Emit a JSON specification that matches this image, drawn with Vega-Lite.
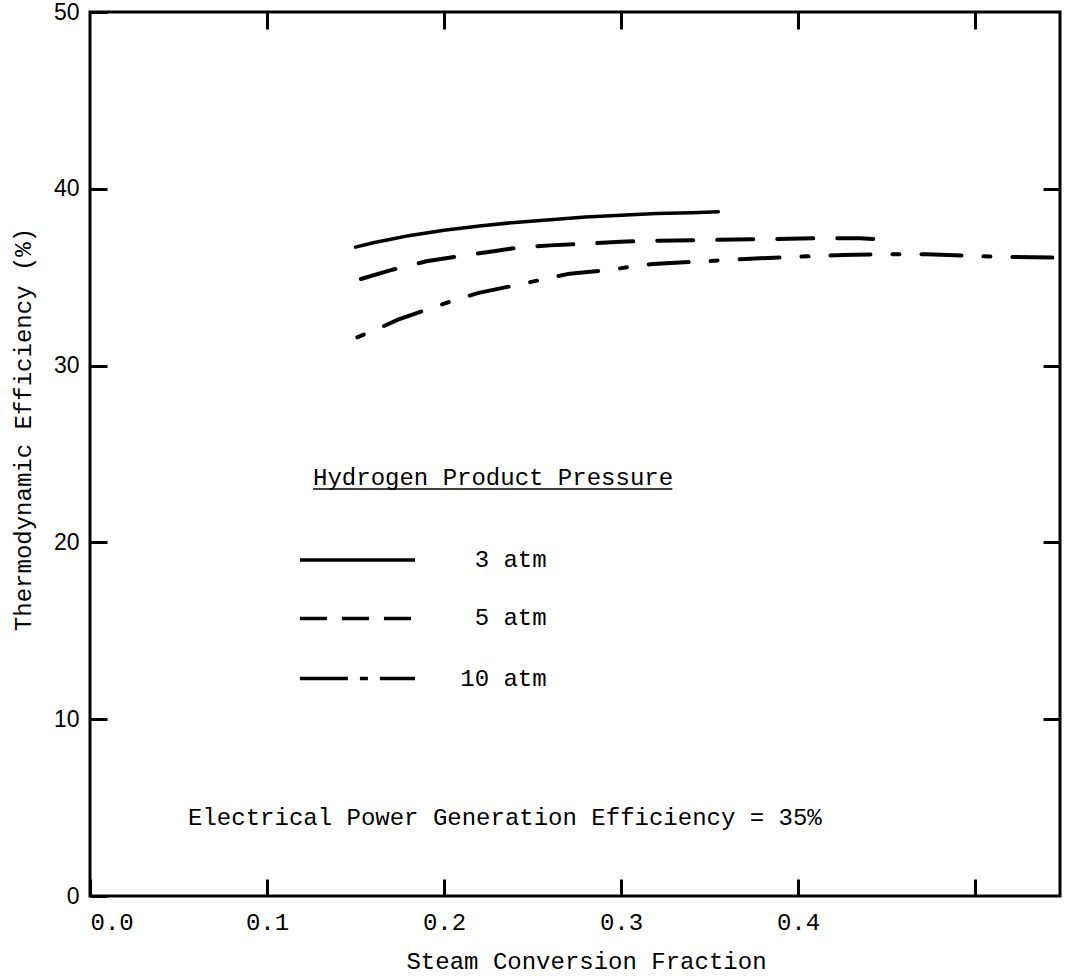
{
  "$schema": "https://vega.github.io/schema/vega-lite/v6.json",
  "width": 970,
  "height": 884,
  "autosize": {"type": "none"},
  "padding": {"left": 90, "top": 12, "right": 9, "bottom": 83},
  "background": "white",
  "config": {
    "view": {"stroke": "black", "strokeWidth": 3},
    "axis": {"domain": false, "grid": false, "tickColor": "black", "tickWidth": 3, "tickSize": -17, "labelColor": "black", "titleColor": "black"},
    "text": {"font": "Liberation Mono", "fontSize": 24, "fontWeight": "normal", "color": "black"}
  },
  "datasets": {
    "curves": [
      {"series": "3 atm", "x": 0.15, "y": 36.7},
      {"series": "3 atm", "x": 0.16, "y": 36.95},
      {"series": "3 atm", "x": 0.17, "y": 37.15},
      {"series": "3 atm", "x": 0.18, "y": 37.35},
      {"series": "3 atm", "x": 0.19, "y": 37.5},
      {"series": "3 atm", "x": 0.2, "y": 37.65},
      {"series": "3 atm", "x": 0.22, "y": 37.9},
      {"series": "3 atm", "x": 0.24, "y": 38.1},
      {"series": "3 atm", "x": 0.26, "y": 38.25},
      {"series": "3 atm", "x": 0.28, "y": 38.4},
      {"series": "3 atm", "x": 0.3, "y": 38.5},
      {"series": "3 atm", "x": 0.32, "y": 38.6},
      {"series": "3 atm", "x": 0.34, "y": 38.65},
      {"series": "3 atm", "x": 0.355, "y": 38.7},
      {"series": "5 atm", "x": 0.153, "y": 34.9},
      {"series": "5 atm", "x": 0.17, "y": 35.4},
      {"series": "5 atm", "x": 0.19, "y": 35.9},
      {"series": "5 atm", "x": 0.209, "y": 36.2},
      {"series": "5 atm", "x": 0.23, "y": 36.5},
      {"series": "5 atm", "x": 0.244, "y": 36.7},
      {"series": "5 atm", "x": 0.26, "y": 36.8},
      {"series": "5 atm", "x": 0.281, "y": 36.9},
      {"series": "5 atm", "x": 0.3, "y": 37.0},
      {"series": "5 atm", "x": 0.315, "y": 37.06},
      {"series": "5 atm", "x": 0.346, "y": 37.1},
      {"series": "5 atm", "x": 0.38, "y": 37.15},
      {"series": "5 atm", "x": 0.41, "y": 37.2},
      {"series": "5 atm", "x": 0.435, "y": 37.2},
      {"series": "5 atm", "x": 0.456, "y": 37.1},
      {"series": "10 atm", "x": 0.151, "y": 31.6},
      {"series": "10 atm", "x": 0.163, "y": 32.1},
      {"series": "10 atm", "x": 0.174, "y": 32.6},
      {"series": "10 atm", "x": 0.187, "y": 33.05},
      {"series": "10 atm", "x": 0.197, "y": 33.4},
      {"series": "10 atm", "x": 0.206, "y": 33.7},
      {"series": "10 atm", "x": 0.219, "y": 34.1},
      {"series": "10 atm", "x": 0.243, "y": 34.6},
      {"series": "10 atm", "x": 0.257, "y": 34.9},
      {"series": "10 atm", "x": 0.271, "y": 35.2},
      {"series": "10 atm", "x": 0.293, "y": 35.4},
      {"series": "10 atm", "x": 0.306, "y": 35.6},
      {"series": "10 atm", "x": 0.318, "y": 35.75},
      {"series": "10 atm", "x": 0.347, "y": 35.9},
      {"series": "10 atm", "x": 0.373, "y": 36.05},
      {"series": "10 atm", "x": 0.398, "y": 36.15},
      {"series": "10 atm", "x": 0.425, "y": 36.25},
      {"series": "10 atm", "x": 0.451, "y": 36.3},
      {"series": "10 atm", "x": 0.473, "y": 36.3},
      {"series": "10 atm", "x": 0.498, "y": 36.2},
      {"series": "10 atm", "x": 0.52, "y": 36.15},
      {"series": "10 atm", "x": 0.548, "y": 36.1}
    ],
    "legend": [
      {"series": "3 atm", "x": 0.1186, "x2": 0.1836, "y": 19.0, "lx": 0.258},
      {"series": "5 atm", "x": 0.1186, "x2": 0.1836, "y": 15.7, "lx": 0.258},
      {"series": "10 atm", "x": 0.1186, "x2": 0.1836, "y": 12.3, "lx": 0.258}
    ],
    "heading": [{"text": "Hydrogen Product Pressure", "x": 0.126, "y": 23.64, "x2": 0.329, "uy": 23.02}],
    "note": [{"text": "Electrical Power Generation Efficiency = 35%", "x": 0.0554, "y": 4.4}]
  },
  "resolve": {"axis": {"x": "independent", "y": "independent"}, "scale": {"strokeDash": "independent"}},
  "layer": [
    {
      "data": {"name": "curves"},
      "transform": [{"filter": "datum.series === '3 atm'"}],
      "mark": {"type": "line", "color": "black", "strokeWidth": 3.5, "strokeCap": "round"},
      "encoding": {
        "x": {"field": "x", "type": "quantitative", "scale": {"domain": [0, 0.548], "nice": false, "zero": false},
          "axis": {"orient": "bottom", "values": [0, 0.1, 0.2, 0.3, 0.4, 0.5], "labelExpr": "datum.value > 0.45 ? '' : format(datum.value, '.1f')",
            "labelFont": "Liberation Mono", "labelFontSize": 24, "labelFontWeight": "normal", "labelPadding": 43, "labelBaseline": "middle", "labelFlush": true,
            "title": "Steam Conversion Fraction", "titleFont": "Liberation Mono", "titleFontSize": 24, "titleFontWeight": "normal",
            "titleX": 496, "titleY": 65, "titleAlign": "center", "titleBaseline": "middle"}},
        "y": {"field": "y", "type": "quantitative", "scale": {"domain": [0, 50], "nice": false, "zero": false},
          "axis": {"orient": "left", "values": [0, 10, 20, 30, 40, 50], "labelFont": "Liberation Sans", "labelFontSize": 23, "labelPadding": 28, "labelFlush": false,
            "title": "Thermodynamic Efficiency (%)", "titleFont": "Liberation Mono", "titleFontSize": 24, "titleFontWeight": "normal",
            "titleX": -67, "titleY": 417, "titleAngle": -90, "titleAlign": "center", "titleBaseline": "middle"}}
      }
    },
    {
      "data": {"name": "curves"},
      "transform": [{"filter": "datum.series === '5 atm'"}],
      "mark": {"type": "line", "color": "black", "strokeWidth": 4, "strokeCap": "round", "strokeDash": [36, 24]},
      "encoding": {
        "x": {"field": "x", "type": "quantitative", "scale": {"domain": [0, 0.548], "nice": false, "zero": false},
          "axis": {"orient": "top", "values": [0.1, 0.2, 0.3, 0.4, 0.5], "labels": false, "title": null}},
        "y": {"field": "y", "type": "quantitative", "scale": {"domain": [0, 50], "nice": false, "zero": false},
          "axis": {"orient": "right", "values": [10, 20, 30, 40], "labels": false, "title": null}}
      }
    },
    {
      "data": {"name": "curves"},
      "transform": [{"filter": "datum.series === '10 atm'"}],
      "mark": {"type": "line", "color": "black", "strokeWidth": 4, "strokeCap": "round", "strokeDash": [40, 22, 7, 22], "strokeDashOffset": 62},
      "encoding": {
        "x": {"field": "x", "type": "quantitative", "scale": {"domain": [0, 0.548], "nice": false, "zero": false}, "axis": null},
        "y": {"field": "y", "type": "quantitative", "scale": {"domain": [0, 50], "nice": false, "zero": false}, "axis": null}
      }
    },
    {
      "data": {"name": "legend"},
      "mark": {"type": "rule", "color": "black", "strokeWidth": 3.5},
      "encoding": {
        "x": {"field": "x", "type": "quantitative", "scale": {"domain": [0, 0.548], "nice": false, "zero": false}, "axis": null},
        "x2": {"field": "x2"},
        "y": {"field": "y", "type": "quantitative", "scale": {"domain": [0, 50], "nice": false, "zero": false}, "axis": null},
        "strokeDash": {"field": "series", "type": "nominal", "legend": null,
          "scale": {"domain": ["3 atm", "5 atm", "10 atm"], "range": [[1, 0], [27, 15], [48, 12, 8, 12]]}}
      }
    },
    {
      "data": {"name": "legend"},
      "mark": {"type": "text", "align": "right", "baseline": "middle"},
      "encoding": {
        "x": {"field": "lx", "type": "quantitative", "scale": {"domain": [0, 0.548], "nice": false, "zero": false}, "axis": null},
        "y": {"field": "y", "type": "quantitative", "scale": {"domain": [0, 50], "nice": false, "zero": false}, "axis": null},
        "text": {"field": "series"}
      }
    },
    {
      "data": {"name": "heading"},
      "mark": {"type": "text", "align": "left", "baseline": "middle"},
      "encoding": {
        "x": {"field": "x", "type": "quantitative", "scale": {"domain": [0, 0.548], "nice": false, "zero": false}, "axis": null},
        "y": {"field": "y", "type": "quantitative", "scale": {"domain": [0, 50], "nice": false, "zero": false}, "axis": null},
        "text": {"field": "text"}
      }
    },
    {
      "data": {"name": "heading"},
      "mark": {"type": "rule", "color": "black", "strokeWidth": 1.5},
      "encoding": {
        "x": {"field": "x", "type": "quantitative", "scale": {"domain": [0, 0.548], "nice": false, "zero": false}, "axis": null},
        "x2": {"field": "x2"},
        "y": {"field": "uy", "type": "quantitative", "scale": {"domain": [0, 50], "nice": false, "zero": false}, "axis": null}
      }
    },
    {
      "data": {"name": "note"},
      "mark": {"type": "text", "align": "left", "baseline": "middle"},
      "encoding": {
        "x": {"field": "x", "type": "quantitative", "scale": {"domain": [0, 0.548], "nice": false, "zero": false}, "axis": null},
        "y": {"field": "y", "type": "quantitative", "scale": {"domain": [0, 50], "nice": false, "zero": false}, "axis": null},
        "text": {"field": "text"}
      }
    }
  ]
}
